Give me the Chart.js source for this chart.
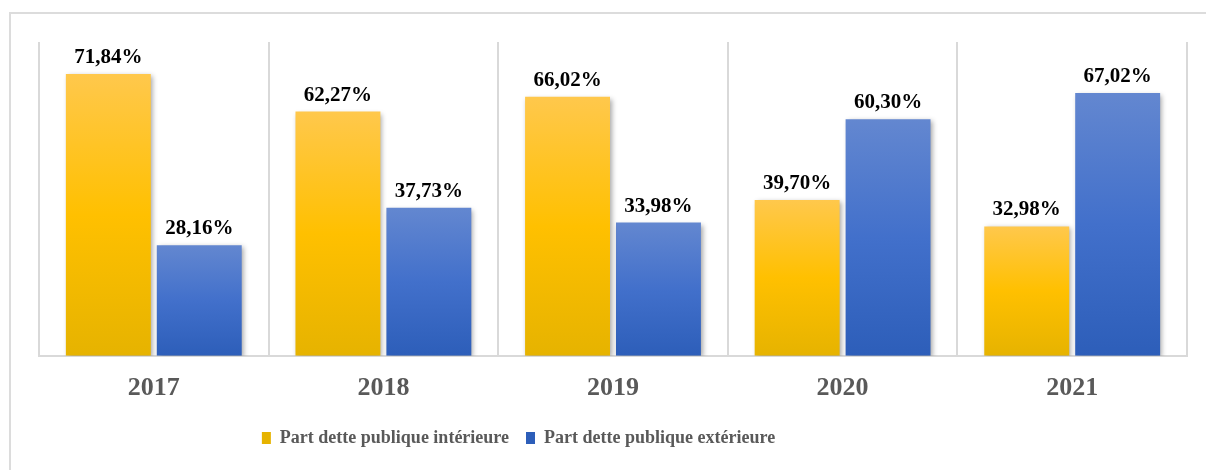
<!DOCTYPE html>
<html>
<head>
<meta charset="utf-8">
<script src="https://cdn.jsdelivr.net/npm/chart.js@4/dist/chart.umd.min.js"></script>
<style>
  body { margin: 0; background: #fff; overflow: hidden; }
  #frame { position: absolute; left: 9px; top: 12px; width: 1400px; height: 700px; border: 2px solid #dcdcdc; }
  #wrap { position: absolute; left: 0; top: 0; width: 1206px; height: 470px; }
</style>
</head>
<body>
<div id="frame"></div>
<div id="wrap"><canvas id="debt-chart"></canvas></div>
<script>
const years = ['2017', '2018', '2019', '2020', '2021']
const interieure = [71.84, 62.27, 66.02, 39.70, 32.98]
const exterieure = [28.16, 37.73, 33.98, 60.30, 67.02]
const seriesNames = ['Part dette publique intérieure', 'Part dette publique extérieure']

// gradient per bar, top lighter -> bottom darker
function barFill(stops, solid) {
    return function (c) {
        const y = c.chart.scales.y
        if (!y || c.type !== 'data') return solid
        const top = y.getPixelForValue(c.raw)
        const bot = y.getPixelForValue(0)
        if (!isFinite(top) || !isFinite(bot) || top === bot) return solid
        const g = c.chart.ctx.createLinearGradient(0, top, 0, bot)
        g.addColorStop(0, stops[0])
        g.addColorStop(0.5, stops[1])
        g.addColorStop(1, stops[2])
        return g
    }
}

const labelsPlugin = {
    id: 'barLabels',
    beforeDatasetsDraw(chart) {
        const ctx = chart.ctx
        ctx.save()
        ctx.shadowColor = 'rgba(0,0,0,0.35)'
        ctx.shadowBlur = 5
        ctx.shadowOffsetX = 2
        ctx.shadowOffsetY = 2
    },
    afterDatasetsDraw(chart) {
        const ctx = chart.ctx
        ctx.restore()
        ctx.save()
        ctx.font = 'bold 21px "Liberation Serif"'
        ctx.fillStyle = '#000'
        ctx.textAlign = 'center'
        ctx.textBaseline = 'alphabetic'
        chart.data.datasets.forEach((ds, i) => {
            chart.getDatasetMeta(i).data.forEach((bar, j) => {
                const txt = ds.data[j].toFixed(2).replace('.', ',') + '%'
                ctx.fillText(txt, bar.x, bar.y - 11)
            })
        })
        ctx.restore()
    }
}

const chart = new Chart(document.getElementById('debt-chart'), {
    type: 'bar',
    data: {
        labels: years,
        datasets: [
            {
                label: seriesNames[0],
                data: interieure,
                backgroundColor: barFill(['#ffc84c', '#ffc000', '#e6b300'], '#ffc000'),
                categoryPercentage: 0.792,
                barPercentage: 0.934
            },
            {
                label: seriesNames[1],
                data: exterieure,
                backgroundColor: barFill(['#6387d0', '#4270cb', '#2d5eb9'], '#4472c4'),
                categoryPercentage: 0.792,
                barPercentage: 0.934
            }
        ]
    },
    options: {
        responsive: true,
        maintainAspectRatio: false,
        animation: false,
        layout: { padding: { left: 39, right: 19, top: 42, bottom: 13 } },
        scales: {
            x: {
                grid: { offset: true, color: '#d9d9d9', lineWidth: 2, drawTicks: false },
                border: { color: '#d9d9d9', width: 2 },
                ticks: {
                    padding: 17,
                    color: '#595959',
                    font: { family: '"Liberation Serif"', weight: 'bold', size: 26 }
                }
            },
            y: {
                display: false,
                min: 0,
                max: 80
            }
        },
        plugins: {
            legend: {
                position: 'bottom',
                labels: {
                    boxWidth: 9,
                    boxHeight: 12,
                    padding: 8,
                    color: '#595959',
                    font: { family: '"Liberation Serif"', weight: 'bold', size: 18 },
                    generateLabels(chart) {
                        const items = Chart.defaults.plugins.legend.labels.generateLabels(chart)
                        // legend sits left of centre in the original
                        items[0].text += '\u2002'
                        items[1].text += '\u2003'.repeat(10) + '\u2002'
                        return items
                    }
                }
            },
            tooltip: { enabled: false }
        }
    },
    plugins: [labelsPlugin]
})
</script>
</body>
</html>
